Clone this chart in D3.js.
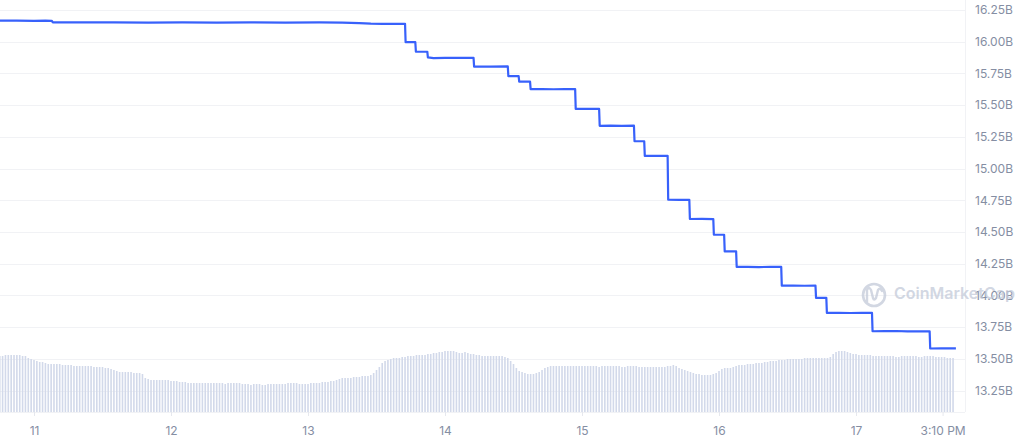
<!DOCTYPE html>
<html><head><meta charset="utf-8">
<script src="https://cdn.jsdelivr.net/npm/d3@7"></script>
<style>
html,body{margin:0;padding:0;background:#fff;}
svg{display:block;font-family:Inter,"Noto Sans",sans-serif;}
</style></head><body>
<svg id="chart" width="1024" height="441"></svg>
<script>
// Base time: hours below are measured from this moment
const baseTime = "2022-10-11T00:00:00";

// Market cap series (hours from baseTime, value in billions USD)
const capHours = [-6,-3,0,2,3.1,3.3,8,14,20,26,32,38,44,50,54,57,59,61,63,65.0,
  65.1,66.8,66.9,68.9,69.0,70,72,74,77.0,77.1,80,83.0,83.1,84.9,85.0,86.9,87.0,89,91,93,94.8,
  94.9,97,99.0,99.1,101,103,105.1,105.2,106.9,107.0,109,111.0,111.1,113,114.8,114.9,117,119.0,
  119.1,120.9,121.0,123.0,123.1,125,127,129,130.9,131.0,133,135,136.9,137.0,138.8,138.9,141,143,145,146.8,
  146.9,149,151,153,155,156.9,157.0,159,161.5];
const capValues = [16.166,16.167,16.165,16.166,16.165,16.153,16.152,16.153,16.151,16.152,16.150,16.152,16.151,16.152,16.150,16.147,16.143,16.141,16.140,16.141,
  15.996,15.996,15.922,15.921,15.876,15.871,15.873,15.872,15.873,15.804,15.803,15.805,15.728,15.728,15.685,15.685,15.626,15.627,15.625,15.627,15.626,
  15.470,15.471,15.470,15.337,15.338,15.336,15.338,15.215,15.215,15.100,15.101,15.100,14.754,14.753,14.754,14.602,14.603,14.601,
  14.478,14.478,14.347,14.347,14.224,14.225,14.223,14.225,14.224,14.077,14.078,14.076,14.077,13.980,13.980,13.862,13.863,13.861,13.863,13.862,
  13.717,13.718,13.719,13.716,13.717,13.716,13.581,13.582,13.582];

// Volume bars: one every 30 minutes starting at hour -6 (billions USD)
const volumeStartHour = -6;
const volumeStepHours = 0.5;
const volumeValues = [
  5.6,5.6,5.7,5.7,5.7,5.7,5.7,5.7,5.6,5.6, 5.4,5.3,5.2,5.1,5.0,5.0,4.9,4.8,4.8,4.8,
  4.8,4.8,4.7,4.7,4.7,4.7,4.6,4.6,4.6,4.6, 4.6,4.6,4.6,4.5,4.5,4.5,4.5,4.4,4.4,4.3,
  4.2,4.1,4.0,4.0,4.0,4.0,4.0,3.9,3.9,3.9, 3.8,3.4,3.3,3.2,3.2,3.2,3.2,3.2,3.2,3.2,
  3.1,3.1,3.1,3.0,3.0,3.0,2.9,2.9,2.9,2.9, 2.9,2.9,2.9,2.9,2.9,2.9,2.9,2.9,2.9,2.8,
  2.9,2.9,2.9,2.9,2.9,2.8,2.8,2.8,2.7,2.8, 2.8,2.8,2.7,2.7,2.8,2.8,2.8,2.8,2.8,2.8,
  2.8,2.9,2.9,2.9,2.9,2.8,2.8,2.8,2.8,2.9, 2.9,2.9,2.9,3.0,3.0,3.0,3.1,3.1,3.2,3.3,
  3.4,3.4,3.4,3.4,3.5,3.5,3.5,3.6,3.6,3.6, 3.7,3.9,4.2,4.5,4.9,5.1,5.2,5.3,5.4,5.4,
  5.4,5.5,5.5,5.6,5.6,5.6,5.7,5.7,5.7,5.7, 5.8,5.8,5.9,5.9,6.0,6.0,6.1,6.1,6.1,6.1,
  6.0,5.9,5.9,6.0,5.9,5.8,5.8,5.7,5.7,5.6, 5.6,5.6,5.6,5.6,5.6,5.6,5.6,5.5,5.4,5.1,
  4.8,4.4,4.1,4.0,3.9,3.8,3.8,3.8,3.9,4.0, 4.2,4.4,4.5,4.6,4.6,4.6,4.6,4.6,4.6,4.6,
  4.6,4.6,4.6,4.6,4.6,4.6,4.6,4.6,4.6,4.6, 4.5,4.6,4.6,4.6,4.6,4.6,4.6,4.6,4.5,4.5,
  4.6,4.6,4.6,4.6,4.5,4.5,4.5,4.5,4.5,4.5, 4.5,4.5,4.5,4.5,4.6,4.6,4.7,4.6,4.4,4.3,
  4.2,4.1,4.0,3.9,3.8,3.8,3.7,3.7,3.7,3.7, 3.8,3.9,4.1,4.3,4.4,4.4,4.4,4.5,4.6,4.7,
  4.7,4.7,4.8,4.8,4.8,4.9,4.9,4.9,5.0,5.0, 5.1,5.1,5.1,5.2,5.2,5.2,5.3,5.3,5.3,5.3,
  5.3,5.3,5.4,5.4,5.4,5.4,5.4,5.4,5.4,5.4, 5.4,5.5,5.8,6.0,6.1,6.1,6.1,6.0,5.9,5.8,
  5.8,5.7,5.7,5.7,5.7,5.7,5.6,5.6,5.6,5.6, 5.6,5.6,5.6,5.6,5.5,5.5,5.6,5.6,5.6,5.6,
  5.6,5.6,5.5,5.5,5.6,5.6,5.6,5.6,5.5,5.5, 5.5,5.5,5.4,5.4,5.4
];

const yTicks = [13.25,13.5,13.75,14.0,14.25,14.5,14.75,15.0,15.25,15.5,15.75,16.0,16.25];
const dayTicks = ["2022-10-11","2022-10-12","2022-10-13","2022-10-14","2022-10-15","2022-10-16","2022-10-17"];
const lastTick = "2022-10-17T15:10:00";
const lastTickLabel = "3:10 PM";

const base = new Date(baseTime).getTime();
const hourToDate = h => new Date(base + h * 3600e3);

const svg = d3.select("#chart");
const plotRight = 965, plotBottom = 412;

const x = d3.scaleTime().domain([hourToDate(-6), hourToDate(161.5)]).range([-0.25, 955.9]);
const y = d3.scaleLinear().domain([13.25, 16.25]).range([390.5, 10]);
const yv = d3.scaleLinear().domain([0, 10]).range([plotBottom, plotBottom - 100]);

const labelColor = "#858ea3";

// gridlines
svg.append("g").selectAll("line").data(yTicks).join("line")
  .attr("x1", 0).attr("x2", plotRight)
  .attr("y1", d => Math.round(y(d)) + 0.5).attr("y2", d => Math.round(y(d)) + 0.5)
  .attr("stroke", "#f1f2f5").attr("stroke-width", 1);
svg.append("line").attr("x1", plotRight + 0.5).attr("x2", plotRight + 0.5).attr("y1", 0).attr("y2", plotBottom)
  .attr("stroke", "#f1f2f5");
svg.append("line").attr("x1", 0).attr("x2", plotRight).attr("y1", plotBottom + 0.5).attr("y2", plotBottom + 0.5)
  .attr("stroke", "#f1f2f5");

// volume bars
svg.append("g").selectAll("rect").data(volumeValues).join("rect")
  .attr("x", (d, i) => x(hourToDate(volumeStartHour + i * volumeStepHours)) - 0.8)
  .attr("width", 1.6)
  .attr("y", d => yv(d))
  .attr("height", d => plotBottom - yv(d))
  .attr("fill", "#d2d9ea");

// market cap line
const capData = capHours.map((h, i) => [hourToDate(h), capValues[i]]);
svg.append("path").datum(capData)
  .attr("fill", "none").attr("stroke", "#3861fb").attr("stroke-width", 2.2)
  .attr("stroke-linejoin", "round")
  .attr("d", d3.line().x(d => x(d[0])).y(d => y(d[1])));

// y axis labels
const yAxis = d3.axisRight(y).tickValues(yTicks).tickSize(0).tickPadding(0)
  .tickFormat(d => d3.format(".2f")(d) + "B");
const yg = svg.append("g").attr("transform", `translate(975,0)`).call(yAxis);
yg.select(".domain").remove();
yg.selectAll("text").attr("fill", labelColor).attr("font-size", 12).attr("font-family", "Inter, sans-serif");

// x axis
const xTickDates = dayTicks.map(d => new Date(d + "T00:00:00")).concat([new Date(lastTick)]);
const xAxis = d3.axisBottom(x).tickValues(xTickDates).tickSize(4).tickPadding(10)
  .tickFormat((d, i) => i === xTickDates.length - 1 ? lastTickLabel : d3.timeFormat("%-d")(d));
const xg = svg.append("g").attr("transform", `translate(0,${plotBottom})`).call(xAxis);
xg.select(".domain").remove();
xg.selectAll("line").attr("stroke", "#e6e8ee");
xg.selectAll("text").attr("fill", labelColor).attr("font-size", 12).attr("font-family", "Inter, sans-serif");

// watermark
const wm = svg.append("g").attr("opacity", 0.75);
wm.append("circle").attr("cx", 874).attr("cy", 295).attr("r", 11)
  .attr("fill", "none").attr("stroke", "#c3cad9").attr("stroke-width", 2.6);
wm.append("path").attr("d", "M867,302 L867,290 Q869,286 871,290 L873,298 Q874,301 876,298 L878,290 Q880,287 882,291")
  .attr("fill", "none").attr("stroke", "#c3cad9").attr("stroke-width", 2.4).attr("stroke-linecap", "round");
wm.append("text").attr("x", 894).attr("y", 295).attr("dominant-baseline", "middle")
  .attr("font-size", 16).attr("font-weight", 600).attr("fill", "#c3cad9")
  .text("CoinMarketCap");
</script>
</body></html>
